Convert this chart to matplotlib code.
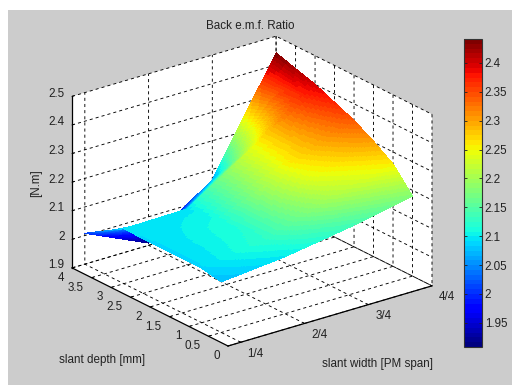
import numpy as np
import matplotlib
matplotlib.use("Agg")
import matplotlib.pyplot as plt
from matplotlib.patches import Rectangle
from matplotlib.colors import Normalize
from matplotlib.cm import ScalarMappable
from mpl_toolkits.mplot3d import proj3d

# ---- data ----
slant_width = [0.25, 0.5, 0.75, 1.0]
slant_depth = [0.5, 1.0, 1.5, 2.0, 3.0, 4.0]
ratio_d05 = [2.077, 2.099, 2.135, 2.180]
ratio_d10 = [2.090, 2.125, 2.205, 2.258]
ratio_d15 = [2.090, 2.118, 2.240, 2.303]
ratio_d20 = [2.090, 2.115, 2.258, 2.342]
ratio_d30 = [2.092, 2.096, 2.240, 2.400]
ratio_d40 = [2.008, 1.908, 2.064, 2.4415]
width_ticks = [0.25, 0.5, 0.75, 1.0]
width_labels = ["1/4", "2/4", "3/4", "4/4"]
depth_ticks = [0, 0.5, 1, 1.5, 2, 2.5, 3, 3.5, 4]
depth_labels = ["0", "0.5", "1", "1.5", "2", "2.5", "3", "3.5", "4"]
ratio_ticks = [1.9, 2.0, 2.1, 2.2, 2.3, 2.4, 2.5]
ratio_labels = ["1.9", "2", "2.1", "2.2", "2.3", "2.4", "2.5"]
cbar_ticks = [1.95, 2.0, 2.05, 2.1, 2.15, 2.2, 2.25, 2.3, 2.35, 2.4]
cbar_labels = ["1.95", "2", "2.05", "2.1", "2.15", "2.2", "2.25", "2.3", "2.35", "2.4"]

W, H = 512, 385
plt.rcParams["font.family"] = ["Liberation Sans", "DejaVu Sans"]
plt.rcParams["font.size"] = 8.4
plt.rcParams["grid.color"] = "black"
plt.rcParams["grid.linestyle"] = (0, (3.4, 3.4))
plt.rcParams["grid.linewidth"] = 0.65
TXT = "#222222"

fig = plt.figure(figsize=(W / 100, H / 100), dpi=100, facecolor="white")
fig.add_artist(Rectangle((8 / W, 0), 1 - 8 / W, 1 - 10 / H, transform=fig.transFigure,
                         facecolor="#cccccc", edgecolor="none", zorder=-10))

ax = fig.add_axes([0, 0, 1, 1], projection="3d", proj_type="ortho")
ax.patch.set_visible(False)
ax.set_xlim(0.2, 1.0, view_margin=0)
ax.set_ylim(0, 4, view_margin=0)
ax.set_zlim(1.9, 2.5, view_margin=0)
ax.view_init(elev=22.6, azim=-127.5)
aspect = (256, 255, 185)
ax.set_box_aspect(aspect)


def to_px(x, y, z):
    xp, yp, _ = proj3d.proj_transform(x, y, z, ax.get_proj())
    return ax.transData.transform((xp, yp))


# fit the box onto the reference's frame
ax.apply_aspect()
a = to_px(0.2, 0, 1.9)
b = to_px(1.0, 0, 1.9)
ax.set_box_aspect(aspect, zoom=204.0 / (b[0] - a[0]))
ax.apply_aspect()
a = to_px(0.2, 0, 1.9)
ax.set_position([(228 - a[0]) / W, ((H - 346) - a[1]) / H, 1, 1])
ax.apply_aspect()

for axis in (ax.xaxis, ax.yaxis, ax.zaxis):
    axis.set_pane_color("white")
    axis.pane.set_edgecolor("none")
    axis.line.set_color("black")
    axis.line.set_linewidth(0.9)
    axis._axinfo["tick"]["inward_factor"] = 0.0
    axis._axinfo["tick"]["outward_factor"] = 0.12
    axis._axinfo["tick"]["linewidth"] = {True: 0.6, False: 0.5}
    axis.set_tick_params(labelcolor="none", labelsize=1, pad=0)

ax.set_xticks(width_ticks)
ax.set_yticks(depth_ticks)
ax.set_zticks(ratio_ticks)

# surface: colour follows height, smoothly shaded inside each read cell
X, Y = np.meshgrid(slant_width, slant_depth)
Z = np.array([ratio_d05, ratio_d10, ratio_d15, ratio_d20, ratio_d30, ratio_d40])
SUB = 36


def shade_refine(A):
    ny, nx = A.shape
    u = np.linspace(0, nx - 1, (nx - 1) * SUB + 1)
    v = np.linspace(0, ny - 1, (ny - 1) * SUB + 1)
    iu = np.minimum(u.astype(int), nx - 2)
    iv = np.minimum(v.astype(int), ny - 2)
    fu = (u - iu)[None, :]
    fv = (v - iv)[:, None]
    return (A[np.ix_(iv, iu)] * (1 - fu) * (1 - fv) + A[np.ix_(iv, iu + 1)] * fu * (1 - fv)
            + A[np.ix_(iv + 1, iu)] * (1 - fu) * fv + A[np.ix_(iv + 1, iu + 1)] * fu * fv)


Xf, Yf, Zf = shade_refine(X), shade_refine(Y), shade_refine(Z)
cmap = plt.get_cmap("jet", 64)
norm = Normalize(Z.min(), Z.max())
face = 0.25 * (Zf[:-1, :-1] + Zf[1:, :-1] + Zf[:-1, 1:] + Zf[1:, 1:])
ax.plot_surface(Xf, Yf, Zf, facecolors=cmap(norm(face)), rstride=1, cstride=1,
                shade=False, linewidth=0, antialiased=False)


def tick_text(s, p, dx, dy, ha="center"):
    xp, yp, _ = proj3d.proj_transform(p[0], p[1], p[2], ax.get_proj())
    ax.annotate(s, xy=(xp, yp), xycoords="data", xytext=(dx, dy), textcoords="offset pixels",
                ha=ha, va="center", color=TXT, fontsize=8.4, annotation_clip=False)


for v, s in zip(width_ticks, width_labels):
    tick_text(s, (v, 0, 1.9), 15, -11.5)
for i, (v, s) in enumerate(zip(depth_ticks, depth_labels)):
    tick_text(s, (0.2, v, 1.9), -11 if i % 2 == 0 else -16, -10)
for v, s in zip(ratio_ticks, ratio_labels):
    tick_text(s, (0.2, 4, v), -7.5, 2.5, ha="right")


def ftext(px, py, s, **kw):
    fig.text(px / W, 1 - py / H, s, ha="center", va="center", color=TXT, fontsize=8.4, **kw)


ftext(250, 26, "Back e.m.f. Ratio")
ftext(36, 183, "[N.m]", rotation=90)
ftext(102, 360, "slant depth [mm]")
ftext(377, 364, "slant width [PM span]")

# colour bar
cax = fig.add_axes([464 / W, 1 - 347 / H, 18 / W, 308 / H])
cb = fig.colorbar(ScalarMappable(norm=norm, cmap=cmap), cax=cax)
cb.set_ticks(cbar_ticks, labels=cbar_labels)
cb.outline.set_edgecolor("#333333")
cb.outline.set_linewidth(0.8)
cax.tick_params(axis="y", left=True, right=True, direction="in", length=2.5, width=0.6,
                pad=2, labelsize=8.4, labelcolor=TXT, color="#222222")

fig.savefig("out.png", dpi=100, facecolor="white")
